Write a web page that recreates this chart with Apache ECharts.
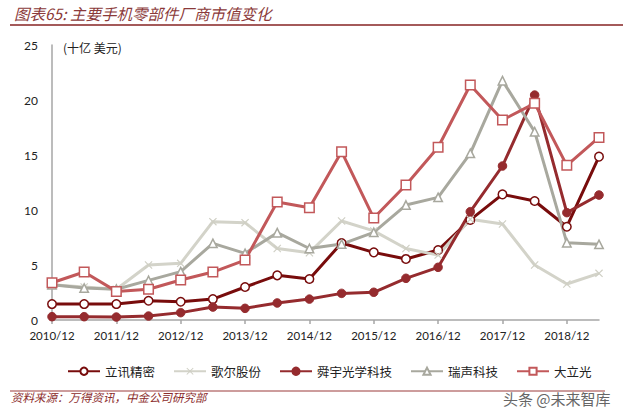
<!DOCTYPE html>
<html>
<head>
<meta charset="utf-8">
<script src="https://cdn.jsdelivr.net/npm/echarts@6/dist/echarts.min.js"></script>
<style>
html,body{margin:0;padding:0;background:#fff;}
#chart{width:631px;height:419px;}
</style>
</head>
<body>
<div id="chart"></div>
<script>
// Categories (half-year points)
var categories = ['2010/12','2011/06','2011/12','2012/06','2012/12','2013/06','2013/12','2014/06','2014/12','2015/06','2015/12','2016/06','2016/12','2017/06','2017/12','2018/06','2018/12','2019/06'];
// Series values (十亿美元)
var luxshare = [1.45,1.45,1.45,1.75,1.66,1.9,3.0,4.06,3.73,7.0,6.15,5.55,6.36,9.1,11.42,10.82,8.48,14.85];
var goertek  = [3.2,3.0,2.8,5.0,5.15,8.94,8.85,6.5,6.12,9.0,8.1,6.5,5.9,9.15,8.73,5.0,3.27,4.24];
var sunny    = [0.3,0.3,0.27,0.36,0.67,1.18,1.06,1.55,1.9,2.42,2.52,3.79,4.79,9.85,14.0,20.45,9.76,11.36];
var aac      = [3.2,2.9,2.8,3.6,4.4,6.97,6.06,7.94,6.5,6.9,7.97,10.45,11.15,15.15,21.76,17.12,7.03,6.88];
var largan   = [3.39,4.36,2.6,2.8,3.64,4.36,5.45,10.73,10.2,15.3,9.27,12.27,15.7,21.36,18.18,19.7,14.06,16.6];
var seriesNames = ['立讯精密','歌尔股份','舜宇光学科技','瑞声科技','大立光'];
var yTicks = [0,5,10,15,20,25];

var cjk = '"Noto Sans CJK SC", sans-serif';
var xSymbol = 'path://M0,1L1,0L5,4L9,0L10,1L6,5L10,9L9,10L5,6L1,10L0,9L4,5Z';

var chart = echarts.init(document.getElementById('chart'), null, {renderer:'svg'});
var option = {
  animation:false,
  backgroundColor:'#fff',
  grid:{left:52,right:32,top:45,bottom:99,containLabel:false},
  legend:{
    left:62, top:360, itemWidth:32, itemHeight:9, itemGap:18,
    textStyle:{fontFamily:cjk,fontSize:12.5,color:'#222'},
    data:seriesNames
  },
  xAxis:{
    type:'category', data:categories, boundaryGap:false,
    axisLine:{lineStyle:{color:'#A6A6A6',width:1.5}},
    axisTick:{show:true,interval:1,length:4,lineStyle:{color:'#A6A6A6',width:1.5}},
    axisLabel:{interval:1,margin:9,color:'#222',fontFamily:'Lato, sans-serif',fontSize:11.5},
    splitLine:{show:false}
  },
  yAxis:{
    type:'value', min:yTicks[0], max:yTicks[yTicks.length-1], interval:5,
    axisLine:{show:true,lineStyle:{color:'#A6A6A6',width:1.5}},
    axisTick:{show:false},
    axisLabel:{margin:14,color:'#222',fontFamily:'Lato, sans-serif',fontSize:12},
    splitLine:{show:false}
  },
  series:[
    {name:seriesNames[0],type:'line',data:luxshare,symbol:'circle',symbolSize:8.5,showAllSymbol:true,
     lineStyle:{color:'#780C0C',width:3},itemStyle:{color:'#fff',borderColor:'#780C0C',borderWidth:1.5}},
    {name:seriesNames[1],type:'line',data:goertek,symbol:xSymbol,symbolSize:8,showAllSymbol:true,
     lineStyle:{color:'#D3D3C9',width:3},itemStyle:{color:'#CFCFC4',borderColor:'#CFCFC4',borderWidth:0}},
    {name:seriesNames[2],type:'line',data:sunny,symbol:'circle',symbolSize:8.5,showAllSymbol:true,
     lineStyle:{color:'#952B2E',width:3},itemStyle:{color:'#952B2E',borderColor:'#952B2E',borderWidth:1}},
    {name:seriesNames[3],type:'line',data:aac,symbol:'triangle',symbolSize:8.5,showAllSymbol:true,
     lineStyle:{color:'#A8A89E',width:3},itemStyle:{color:'#fff',borderColor:'#A8A89E',borderWidth:1.5}},
    {name:seriesNames[4],type:'line',data:largan,symbol:'rect',symbolSize:9.5,showAllSymbol:true,
     lineStyle:{color:'#C2585A',width:3},itemStyle:{color:'#fff',borderColor:'#C2585A',borderWidth:1.5}}
  ],
  graphic:[
    {type:'text',left:14,top:5,style:{text:'图表65: 主要手机零部件厂商市值变化',fill:'#8B3A3A',font:'italic 15.5px '+cjk}},
    {type:'line',shape:{x1:10,y1:25,x2:623,y2:25},style:{stroke:'#A45A5A',lineWidth:2}},
    {type:'text',left:63,top:41,style:{text:'(十亿 美元)',fill:'#222',font:'12px '+cjk}},
    {type:'line',shape:{x1:10,y1:391,x2:605,y2:391},style:{stroke:'#9B3B3B',lineWidth:1}},
    {type:'text',left:11,top:391,style:{text:'资料来源：万得资讯，中金公司研究部',fill:'#8B2B2B',font:'italic 11.5px '+cjk}},
    {type:'text',left:503,top:391,style:{text:'头条 @未来智库',fill:'#666',font:'15px '+cjk}}
  ]
};
chart.setOption(option);
</script>
</body>
</html>
